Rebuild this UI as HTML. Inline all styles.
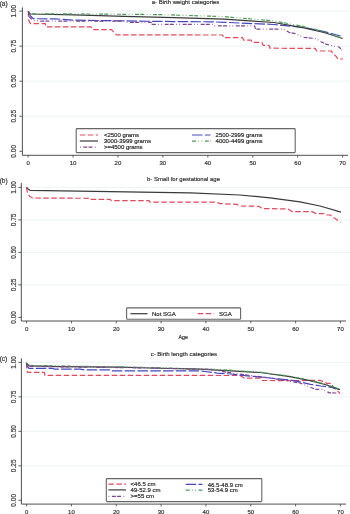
<!DOCTYPE html>
<html><head><meta charset="utf-8"><style>
html,body{margin:0;padding:0;background:#fff;width:350px;height:514px;overflow:hidden}
svg{display:block;filter:blur(0.3px)}
text{font-family:"Liberation Sans", sans-serif;stroke:#333;stroke-width:0.18px}
</style></head><body>
<svg width="350" height="514" viewBox="0 0 350 514" font-family='"Liberation Sans", sans-serif'>
<rect width="350" height="514" fill="#fff"/>
<line x1="22.4" y1="116.25" x2="350" y2="116.25" stroke="#e9f0f0" stroke-width="0.8"/>
<line x1="22.4" y1="81.2" x2="350" y2="81.2" stroke="#e9f0f0" stroke-width="0.8"/>
<line x1="22.4" y1="46.15" x2="350" y2="46.15" stroke="#e9f0f0" stroke-width="0.8"/>
<line x1="22.4" y1="11.1" x2="350" y2="11.1" stroke="#e9f0f0" stroke-width="0.8"/>
<path d="M28.3,11.3 L28.5,19.4 L30.4,23.7 L45.4,23.7 L45.8,26.8 L91,26.8 L92.8,29.7 L111.5,29.7 L116.5,34.9 L222.7,35 L223.3,37.7 L242.6,37.7 L243.5,40.1 L251,40.1 L252,42.3 L262,42.3 L263,45.4 L269,45.4 L270,48.2 L315.3,48.4 L316.5,51 L331,51 L336.3,56.7 L338,59 L343,59" fill="none" stroke="#e04a5e" stroke-width="1.2" stroke-dasharray="5.5 2.5" stroke-linejoin="round"/>
<path d="M28.3,11.3 L30,15.5 L33.3,18.7 L54,18.9 L74,20.1 L124,20.9 L174,21.6 L211,21.8 L224,22.3 L274,24.5 L304,27.6 L324,31.5 L342.6,36.5" fill="none" stroke="#4646c4" stroke-width="1.2" stroke-dasharray="10.5 2.3" stroke-linejoin="round"/>
<path d="M28.3,11.3 L30.4,14 L74,14.9 L124,16.3 L174,17.7 L224,19.1 L274,22.5 L304,27.8 L324,32.5 L342.6,38.5" fill="none" stroke="#3a3a3a" stroke-width="1.2" stroke-linejoin="round"/>
<path d="M28.3,11.3 L30,13.7 L90,14 L160,14.6 L224,16.6 L274,20.9 L304,26.6 L324,31.5 L342.6,38.5" fill="none" stroke="#4c9a58" stroke-width="1.2" stroke-dasharray="4 1.2 4 2.4 0.7 2.4 0.7 2.6" stroke-linejoin="round"/>
<path d="M28.3,11.3 L29.5,17 L33,20.5 L41,21.1 L124,21.1 L127,22.3 L151,22.3 L152,24.4 L214,24.4 L215,25.9 L254.7,25.9 L255.5,29.2 L283.3,29.2 L289,32.3 L295.4,33.7 L304,37.3 L316.9,38.7 L319,40.7 L326,44.1 L330,45.3 L339,47 L342,50.2" fill="none" stroke="#7e4490" stroke-width="1.2" stroke-dasharray="4 1.2 4 2.4 0.7 2.4 0.7 2.6" stroke-linejoin="round"/>
<line x1="22.4" y1="7.3" x2="22.4" y2="155.3" stroke="#3c3c3c" stroke-width="0.9"/>
<line x1="22.4" y1="155.3" x2="348" y2="155.3" stroke="#3c3c3c" stroke-width="0.9"/>
<line x1="19.4" y1="151.3" x2="22.4" y2="151.3" stroke="#3c3c3c" stroke-width="0.8"/>
<text x="16.2" y="151.3" transform="rotate(-90 16.2 151.3)" text-anchor="middle" font-size="6.5" fill="#333">0.00</text>
<line x1="19.4" y1="116.25" x2="22.4" y2="116.25" stroke="#3c3c3c" stroke-width="0.8"/>
<text x="16.2" y="116.25" transform="rotate(-90 16.2 116.25)" text-anchor="middle" font-size="6.5" fill="#333">0.25</text>
<line x1="19.4" y1="81.2" x2="22.4" y2="81.2" stroke="#3c3c3c" stroke-width="0.8"/>
<text x="16.2" y="81.2" transform="rotate(-90 16.2 81.2)" text-anchor="middle" font-size="6.5" fill="#333">0.50</text>
<line x1="19.4" y1="46.15" x2="22.4" y2="46.15" stroke="#3c3c3c" stroke-width="0.8"/>
<text x="16.2" y="46.15" transform="rotate(-90 16.2 46.15)" text-anchor="middle" font-size="6.5" fill="#333">0.75</text>
<line x1="19.4" y1="11.1" x2="22.4" y2="11.1" stroke="#3c3c3c" stroke-width="0.8"/>
<text x="16.2" y="11.1" transform="rotate(-90 16.2 11.1)" text-anchor="middle" font-size="6.5" fill="#333">1.00</text>
<line x1="28.1" y1="155.3" x2="28.1" y2="157.6" stroke="#3c3c3c" stroke-width="0.8"/>
<text x="28.1" y="164.9" text-anchor="middle" font-size="6" fill="#333">0</text>
<line x1="73.03" y1="155.3" x2="73.03" y2="157.6" stroke="#3c3c3c" stroke-width="0.8"/>
<text x="73.03" y="164.9" text-anchor="middle" font-size="6" fill="#333">10</text>
<line x1="117.96" y1="155.3" x2="117.96" y2="157.6" stroke="#3c3c3c" stroke-width="0.8"/>
<text x="117.96" y="164.9" text-anchor="middle" font-size="6" fill="#333">20</text>
<line x1="162.89" y1="155.3" x2="162.89" y2="157.6" stroke="#3c3c3c" stroke-width="0.8"/>
<text x="162.89" y="164.9" text-anchor="middle" font-size="6" fill="#333">30</text>
<line x1="207.82" y1="155.3" x2="207.82" y2="157.6" stroke="#3c3c3c" stroke-width="0.8"/>
<text x="207.82" y="164.9" text-anchor="middle" font-size="6" fill="#333">40</text>
<line x1="252.75" y1="155.3" x2="252.75" y2="157.6" stroke="#3c3c3c" stroke-width="0.8"/>
<text x="252.75" y="164.9" text-anchor="middle" font-size="6" fill="#333">50</text>
<line x1="297.68" y1="155.3" x2="297.68" y2="157.6" stroke="#3c3c3c" stroke-width="0.8"/>
<text x="297.68" y="164.9" text-anchor="middle" font-size="6" fill="#333">60</text>
<line x1="342.61" y1="155.3" x2="342.61" y2="157.6" stroke="#3c3c3c" stroke-width="0.8"/>
<text x="342.61" y="164.9" text-anchor="middle" font-size="6" fill="#333">70</text>
<text x="-0.3" y="5.5" font-size="6.5" fill="#333">(a)</text>
<text x="185.5" y="4" text-anchor="middle" font-size="6" fill="#333">a- Birth weight categories</text>
<rect x="76.2" y="128.6" width="219" height="24" fill="#fff" stroke="#666" stroke-width="1.1" rx="0.8"/>
<line x1="79.8" y1="135" x2="98" y2="135" stroke="#e04a5e" stroke-width="1.2" stroke-dasharray="5.5 2.5"/>
<text x="103.9" y="137.1" font-size="6" fill="#222">&lt;2500 grams</text>
<line x1="79.8" y1="141" x2="98" y2="141" stroke="#3a3a3a" stroke-width="1.2"/>
<text x="103.9" y="143.1" font-size="6" fill="#222">3000-3999 grams</text>
<line x1="79.8" y1="147.1" x2="98" y2="147.1" stroke="#7e4490" stroke-width="1.2" stroke-dasharray="4 1.2 4 2.4 0.7 2.4 0.7 2.6" stroke-dashoffset="14.5"/>
<text x="103.9" y="149.2" font-size="6" fill="#222">&gt;=4500 grams</text>
<line x1="192" y1="135" x2="210.5" y2="135" stroke="#4646c4" stroke-width="1.2" stroke-dasharray="10.5 2.3"/>
<text x="215.6" y="137.1" font-size="6" fill="#222">2500-2999 grams</text>
<line x1="192" y1="141.1" x2="210.5" y2="141.1" stroke="#4c9a58" stroke-width="1.2" stroke-dasharray="4 1.2 4 2.4 0.7 2.4 0.7 2.6" stroke-dashoffset="5.2"/>
<text x="215.6" y="143.2" font-size="6" fill="#222">4000-4499 grams</text>
<line x1="21.3" y1="284.9" x2="350" y2="284.9" stroke="#e9f0f0" stroke-width="0.8"/>
<line x1="21.3" y1="252.4" x2="350" y2="252.4" stroke="#e9f0f0" stroke-width="0.8"/>
<line x1="21.3" y1="219.9" x2="350" y2="219.9" stroke="#e9f0f0" stroke-width="0.8"/>
<line x1="21.3" y1="187.4" x2="350" y2="187.4" stroke="#e9f0f0" stroke-width="0.8"/>
<path d="M26.4,187.2 L28,189 L30,190.3 L110,191.6 L190,192.9 L240,195 L270,197.8 L300,201.9 L320,206 L341,212.1" fill="none" stroke="#3a3a3a" stroke-width="1.2" stroke-linejoin="round"/>
<path d="M26.4,187.2 L27.5,193 L30,196.8 L32.9,198 L89.4,198.3 L90,199.4 L110,199.4 L111.5,200.7 L149,200.7 L150,202.2 L216,202.2 L220,203.6 L237,204.4 L240,206 L259,206.3 L262,208.5 L288,209 L292,211.6 L312,211.6 L316,213.6 L324,213.6 L326,215 L330,215 L340.5,222.2" fill="none" stroke="#e04a5e" stroke-width="1.2" stroke-dasharray="5.5 2.5" stroke-linejoin="round"/>
<line x1="21.3" y1="182.9" x2="21.3" y2="321" stroke="#3c3c3c" stroke-width="0.9"/>
<line x1="21.3" y1="321" x2="346" y2="321" stroke="#3c3c3c" stroke-width="0.9"/>
<line x1="18.3" y1="317.4" x2="21.3" y2="317.4" stroke="#3c3c3c" stroke-width="0.8"/>
<text x="15.6" y="317.4" transform="rotate(-90 15.6 317.4)" text-anchor="middle" font-size="6.5" fill="#333">0.00</text>
<line x1="18.3" y1="284.9" x2="21.3" y2="284.9" stroke="#3c3c3c" stroke-width="0.8"/>
<text x="15.6" y="284.9" transform="rotate(-90 15.6 284.9)" text-anchor="middle" font-size="6.5" fill="#333">0.25</text>
<line x1="18.3" y1="252.4" x2="21.3" y2="252.4" stroke="#3c3c3c" stroke-width="0.8"/>
<text x="15.6" y="252.4" transform="rotate(-90 15.6 252.4)" text-anchor="middle" font-size="6.5" fill="#333">0.50</text>
<line x1="18.3" y1="219.9" x2="21.3" y2="219.9" stroke="#3c3c3c" stroke-width="0.8"/>
<text x="15.6" y="219.9" transform="rotate(-90 15.6 219.9)" text-anchor="middle" font-size="6.5" fill="#333">0.75</text>
<line x1="18.3" y1="187.4" x2="21.3" y2="187.4" stroke="#3c3c3c" stroke-width="0.8"/>
<text x="15.6" y="187.4" transform="rotate(-90 15.6 187.4)" text-anchor="middle" font-size="6.5" fill="#333">1.00</text>
<line x1="26.6" y1="321" x2="26.6" y2="323.3" stroke="#3c3c3c" stroke-width="0.8"/>
<text x="26.6" y="331" text-anchor="middle" font-size="6" fill="#333">0</text>
<line x1="71.43" y1="321" x2="71.43" y2="323.3" stroke="#3c3c3c" stroke-width="0.8"/>
<text x="71.43" y="331" text-anchor="middle" font-size="6" fill="#333">10</text>
<line x1="116.26" y1="321" x2="116.26" y2="323.3" stroke="#3c3c3c" stroke-width="0.8"/>
<text x="116.26" y="331" text-anchor="middle" font-size="6" fill="#333">20</text>
<line x1="161.09" y1="321" x2="161.09" y2="323.3" stroke="#3c3c3c" stroke-width="0.8"/>
<text x="161.09" y="331" text-anchor="middle" font-size="6" fill="#333">30</text>
<line x1="205.92" y1="321" x2="205.92" y2="323.3" stroke="#3c3c3c" stroke-width="0.8"/>
<text x="205.92" y="331" text-anchor="middle" font-size="6" fill="#333">40</text>
<line x1="250.75" y1="321" x2="250.75" y2="323.3" stroke="#3c3c3c" stroke-width="0.8"/>
<text x="250.75" y="331" text-anchor="middle" font-size="6" fill="#333">50</text>
<line x1="295.58" y1="321" x2="295.58" y2="323.3" stroke="#3c3c3c" stroke-width="0.8"/>
<text x="295.58" y="331" text-anchor="middle" font-size="6" fill="#333">60</text>
<line x1="340.41" y1="321" x2="340.41" y2="323.3" stroke="#3c3c3c" stroke-width="0.8"/>
<text x="340.41" y="331" text-anchor="middle" font-size="6" fill="#333">70</text>
<text x="-0.3" y="183" font-size="6.5" fill="#333">(b)</text>
<text x="183.5" y="181" text-anchor="middle" font-size="6" fill="#333">b- Small for gestational age</text>
<text x="183.3" y="339.4" text-anchor="middle" font-size="5.3" fill="#333">Age</text>
<rect x="126.6" y="307.9" width="114" height="11.4" fill="#fff" stroke="#666" stroke-width="1.1" rx="0.8"/>
<line x1="130.4" y1="313.7" x2="147.5" y2="313.7" stroke="#3a3a3a" stroke-width="1.2"/>
<text x="152" y="315.8" font-size="6" fill="#222">Not SGA</text>
<line x1="197.7" y1="313.7" x2="214" y2="313.7" stroke="#e04a5e" stroke-width="1.2" stroke-dasharray="5.5 2.5"/>
<text x="219.1" y="315.8" font-size="6" fill="#222">SGA</text>
<line x1="21.4" y1="465.82" x2="350" y2="465.82" stroke="#e9f0f0" stroke-width="0.8"/>
<line x1="21.4" y1="431.35" x2="350" y2="431.35" stroke="#e9f0f0" stroke-width="0.8"/>
<line x1="21.4" y1="396.88" x2="350" y2="396.88" stroke="#e9f0f0" stroke-width="0.8"/>
<line x1="21.4" y1="362.4" x2="350" y2="362.4" stroke="#e9f0f0" stroke-width="0.8"/>
<path d="M26.4,363 L26.8,370 L27.5,372.4 L44.3,372.4 L45,375.3 L240,375.5 L244,378.1 L260,378.1 L262,380.5 L300,380.6 L315.7,380.3 L320,380.3 L327,383.4 L331,383.4 L334.6,388.6 L337,390.3 L340,393.7" fill="none" stroke="#e04a5e" stroke-width="1.2" stroke-dasharray="5.5 2.5" stroke-linejoin="round"/>
<path d="M26.4,363 L27.5,366.5 L29,368.3 L52.9,368.3 L54,369.1 L80,369.1 L85,369.9 L110,369.9 L111,370.9 L200,370.9 L205,371.5 L217,373.1 L231,374 L238,374.9 L256,376.6 L290,380 L298.6,381.7 L310.6,384.3 L320.9,386 L329,387 L339,389.2" fill="none" stroke="#4646c4" stroke-width="1.2" stroke-dasharray="10.5 2.3" stroke-linejoin="round"/>
<path d="M26.4,362.8 L29,365.9 L60,366.6 L120,367.1 L150,368 L200,369.2 L260,372.5 L290,376.6 L310,380.7 L325,384.5 L340,389.6" fill="none" stroke="#3a3a3a" stroke-width="1.2" stroke-linejoin="round"/>
<path d="M26.4,363 L28,364.5 L30,365.4 L140,367.3 L220,369.6 L260,372.2 L290,376.2 L310,380.2 L325,384 L340,389.3" fill="none" stroke="#4c9a58" stroke-width="1.2" stroke-dasharray="4 1.2 4 2.4 0.7 2.4 0.7 2.6" stroke-linejoin="round"/>
<path d="M26.4,363 L27,365.5 L29,366.2 L60,366.8 L150,368 L210,369.4 L235,373.5 L270,378 L300,383 L315.7,389.4 L322.6,389.4 L329.4,392.9 L337,393" fill="none" stroke="#7e4490" stroke-width="1.2" stroke-dasharray="4 1.2 4 2.4 0.7 2.4 0.7 2.6" stroke-linejoin="round"/>
<line x1="21.4" y1="358.4" x2="21.4" y2="504.1" stroke="#3c3c3c" stroke-width="0.9"/>
<line x1="21.4" y1="504.1" x2="346" y2="504.1" stroke="#3c3c3c" stroke-width="0.9"/>
<line x1="18.4" y1="500.3" x2="21.4" y2="500.3" stroke="#3c3c3c" stroke-width="0.8"/>
<text x="15.6" y="500.3" transform="rotate(-90 15.6 500.3)" text-anchor="middle" font-size="6.5" fill="#333">0.00</text>
<line x1="18.4" y1="465.82" x2="21.4" y2="465.82" stroke="#3c3c3c" stroke-width="0.8"/>
<text x="15.6" y="465.82" transform="rotate(-90 15.6 465.82)" text-anchor="middle" font-size="6.5" fill="#333">0.25</text>
<line x1="18.4" y1="431.35" x2="21.4" y2="431.35" stroke="#3c3c3c" stroke-width="0.8"/>
<text x="15.6" y="431.35" transform="rotate(-90 15.6 431.35)" text-anchor="middle" font-size="6.5" fill="#333">0.50</text>
<line x1="18.4" y1="396.88" x2="21.4" y2="396.88" stroke="#3c3c3c" stroke-width="0.8"/>
<text x="15.6" y="396.88" transform="rotate(-90 15.6 396.88)" text-anchor="middle" font-size="6.5" fill="#333">0.75</text>
<line x1="18.4" y1="362.4" x2="21.4" y2="362.4" stroke="#3c3c3c" stroke-width="0.8"/>
<text x="15.6" y="362.4" transform="rotate(-90 15.6 362.4)" text-anchor="middle" font-size="6.5" fill="#333">1.00</text>
<line x1="26.6" y1="504.1" x2="26.6" y2="506.4" stroke="#3c3c3c" stroke-width="0.8"/>
<text x="26.6" y="513.6" text-anchor="middle" font-size="6" fill="#333">0</text>
<line x1="71.43" y1="504.1" x2="71.43" y2="506.4" stroke="#3c3c3c" stroke-width="0.8"/>
<text x="71.43" y="513.6" text-anchor="middle" font-size="6" fill="#333">10</text>
<line x1="116.26" y1="504.1" x2="116.26" y2="506.4" stroke="#3c3c3c" stroke-width="0.8"/>
<text x="116.26" y="513.6" text-anchor="middle" font-size="6" fill="#333">20</text>
<line x1="161.09" y1="504.1" x2="161.09" y2="506.4" stroke="#3c3c3c" stroke-width="0.8"/>
<text x="161.09" y="513.6" text-anchor="middle" font-size="6" fill="#333">30</text>
<line x1="205.92" y1="504.1" x2="205.92" y2="506.4" stroke="#3c3c3c" stroke-width="0.8"/>
<text x="205.92" y="513.6" text-anchor="middle" font-size="6" fill="#333">40</text>
<line x1="250.75" y1="504.1" x2="250.75" y2="506.4" stroke="#3c3c3c" stroke-width="0.8"/>
<text x="250.75" y="513.6" text-anchor="middle" font-size="6" fill="#333">50</text>
<line x1="295.58" y1="504.1" x2="295.58" y2="506.4" stroke="#3c3c3c" stroke-width="0.8"/>
<text x="295.58" y="513.6" text-anchor="middle" font-size="6" fill="#333">60</text>
<line x1="340.41" y1="504.1" x2="340.41" y2="506.4" stroke="#3c3c3c" stroke-width="0.8"/>
<text x="340.41" y="513.6" text-anchor="middle" font-size="6" fill="#333">70</text>
<text x="-0.3" y="360.8" font-size="6.5" fill="#333">(c)</text>
<text x="183.9" y="356.1" text-anchor="middle" font-size="6" fill="#333">c- Birth length categories</text>
<rect x="106.3" y="478.6" width="155.5" height="23" fill="#fff" stroke="#666" stroke-width="1.1" rx="0.8"/>
<line x1="108.4" y1="484.2" x2="126" y2="484.2" stroke="#e04a5e" stroke-width="1.2" stroke-dasharray="5.5 2.5"/>
<text x="130.6" y="486.3" font-size="6" fill="#222">&lt;46.5 cm</text>
<line x1="108.4" y1="489.9" x2="126" y2="489.9" stroke="#3a3a3a" stroke-width="1.2"/>
<text x="130.6" y="492" font-size="6" fill="#222">49-52.9 cm</text>
<line x1="108.4" y1="496.3" x2="126" y2="496.3" stroke="#7e4490" stroke-width="1.2" stroke-dasharray="4 1.2 4 2.4 0.7 2.4 0.7 2.6" stroke-dashoffset="14.5"/>
<text x="130.6" y="498.4" font-size="6" fill="#222">&gt;=55 cm</text>
<line x1="185.7" y1="484.4" x2="202.4" y2="484.4" stroke="#4646c4" stroke-width="1.2" stroke-dasharray="10.5 2.3"/>
<text x="207.7" y="486.5" font-size="6" fill="#222">46.5-48.9 cm</text>
<line x1="185.7" y1="490.1" x2="202.4" y2="490.1" stroke="#4c9a58" stroke-width="1.2" stroke-dasharray="4 1.2 4 2.4 0.7 2.4 0.7 2.6" stroke-dashoffset="5.2"/>
<text x="207.7" y="492.2" font-size="6" fill="#222">53-54.9 cm</text>
</svg>
</body></html>
